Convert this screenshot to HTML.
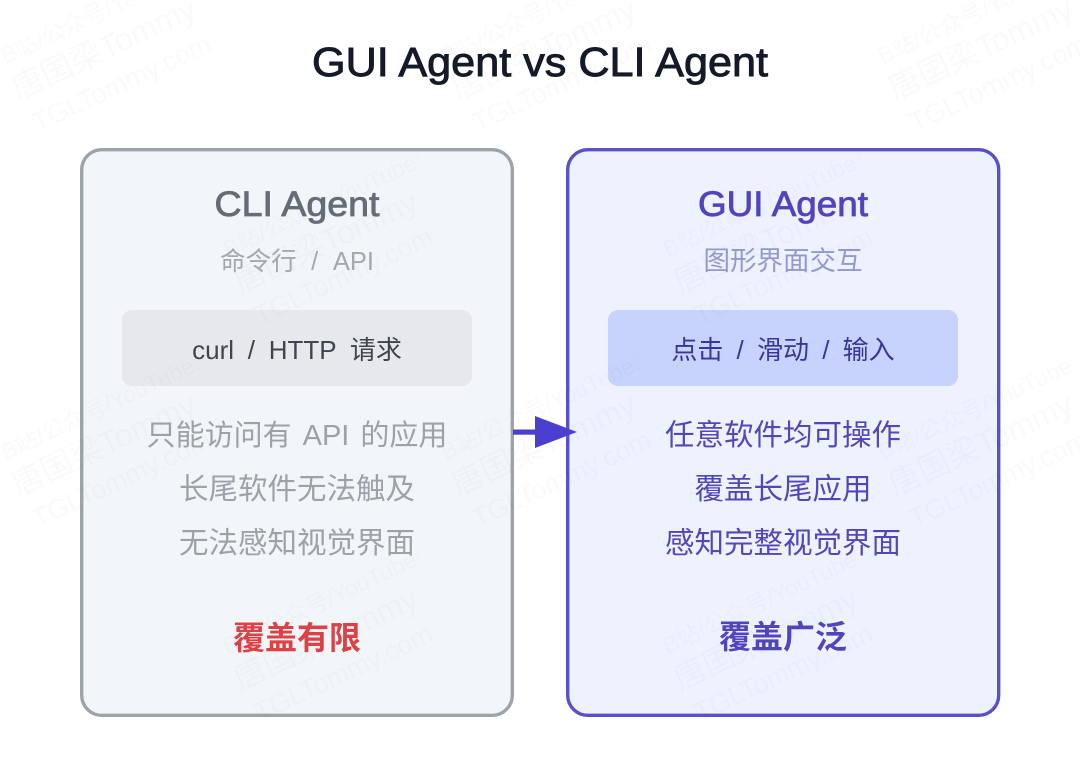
<!DOCTYPE html>
<html><head><meta charset="utf-8">
<style>
html,body{margin:0;padding:0;background:#fff;width:1080px;height:772px;overflow:hidden}
svg{display:block}
text{font-family:"Liberation Sans","Noto Sans CJK SC",sans-serif;text-anchor:middle}
.wm text{text-anchor:start;fill:#000;fill-opacity:.02}
</style></head><body>
<svg width="1080" height="772" viewBox="0 0 1080 772" xmlns="http://www.w3.org/2000/svg">
<rect width="1080" height="772" fill="#fff"/>
<rect x="81.7" y="149.7" width="430.6" height="565.6" rx="20" fill="#f3f6f8" stroke="#9ca3a9" stroke-width="3.4"/>
<rect x="567.7" y="149.7" width="431" height="565.6" rx="20" fill="#eef2fe" stroke="#5a50c8" stroke-width="3.4"/>
<rect x="122" y="310" width="350" height="76" rx="10" fill="#e6e8ec"/>
<rect x="608" y="310" width="350" height="76" rx="10" fill="#c7d2fd"/>

<g class="wm">
<g transform="translate(2,66) rotate(-25)"><text x="4" y="0" font-size="23">B站/公众号/YouTube:</text><text x="0" y="38" font-size="32">唐国梁Tommy</text><text x="4" y="75" font-size="27">TGLTommy.com</text></g>
<g transform="translate(442,66) rotate(-25)"><text x="4" y="0" font-size="23">B站/公众号/YouTube:</text><text x="0" y="38" font-size="32">唐国梁Tommy</text><text x="4" y="75" font-size="27">TGLTommy.com</text></g>
<g transform="translate(879,66) rotate(-25)"><text x="4" y="0" font-size="23">B站/公众号/YouTube:</text><text x="0" y="38" font-size="32">唐国梁Tommy</text><text x="4" y="75" font-size="27">TGLTommy.com</text></g>
<g transform="translate(224,259) rotate(-25)"><text x="4" y="0" font-size="23">B站/公众号/YouTube:</text><text x="0" y="38" font-size="32">唐国梁Tommy</text><text x="4" y="75" font-size="27">TGLTommy.com</text></g>
<g transform="translate(664,259) rotate(-25)"><text x="4" y="0" font-size="23">B站/公众号/YouTube:</text><text x="0" y="38" font-size="32">唐国梁Tommy</text><text x="4" y="75" font-size="27">TGLTommy.com</text></g>
<g transform="translate(2,462) rotate(-25)"><text x="4" y="0" font-size="23">B站/公众号/YouTube:</text><text x="0" y="38" font-size="32">唐国梁Tommy</text><text x="4" y="75" font-size="27">TGLTommy.com</text></g>
<g transform="translate(442,462) rotate(-25)"><text x="4" y="0" font-size="23">B站/公众号/YouTube:</text><text x="0" y="38" font-size="32">唐国梁Tommy</text><text x="4" y="75" font-size="27">TGLTommy.com</text></g>
<g transform="translate(879,462) rotate(-25)"><text x="4" y="0" font-size="23">B站/公众号/YouTube:</text><text x="0" y="38" font-size="32">唐国梁Tommy</text><text x="4" y="75" font-size="27">TGLTommy.com</text></g>
<g transform="translate(224,656) rotate(-25)"><text x="4" y="0" font-size="23">B站/公众号/YouTube:</text><text x="0" y="38" font-size="32">唐国梁Tommy</text><text x="4" y="75" font-size="27">TGLTommy.com</text></g>
<g transform="translate(664,656) rotate(-25)"><text x="4" y="0" font-size="23">B站/公众号/YouTube:</text><text x="0" y="38" font-size="32">唐国梁Tommy</text><text x="4" y="75" font-size="27">TGLTommy.com</text></g>
</g>

<text x="540" y="76" font-size="41" fill="#151a28" stroke="#151a28" stroke-width=".9" textLength="456" lengthAdjust="spacingAndGlyphs">GUI Agent vs CLI Agent</text>

<text x="297" y="216" font-size="35" fill="#656c78" stroke="#656c78" stroke-width=".8" textLength="165" lengthAdjust="spacingAndGlyphs">CLI Agent</text>
<text x="297" y="270" font-size="25.5" fill="#a4a9b1" word-spacing="7.5">命令行 / API</text>
<text x="297" y="359" font-size="26" fill="#3f4550" word-spacing="6.5">curl / HTTP 请求</text>
<text x="297" y="445" font-size="29" fill="#9ca2aa" word-spacing="3">只能访问有 API 的应用</text>
<text x="297" y="499" font-size="29.5" fill="#9ca2aa">长尾软件无法触及</text>
<text x="297" y="553" font-size="29.5" fill="#9ca2aa">无法感知视觉界面</text>
<text x="297" y="649" font-size="32" font-weight="700" fill="#dc4146">覆盖有限</text>

<text x="783" y="216" font-size="35" fill="#4f46bd" stroke="#4f46bd" stroke-width=".8" textLength="170" lengthAdjust="spacingAndGlyphs">GUI Agent</text>
<text x="783" y="270" font-size="26.5" fill="#9299cf">图形界面交互</text>
<text x="783" y="359" font-size="26" fill="#3a3794" word-spacing="6">点击 / 滑动 / 输入</text>
<text x="783" y="445" font-size="29.5" fill="#5048b8">任意软件均可操作</text>
<text x="783" y="499" font-size="29.5" fill="#5048b8">覆盖长尾应用</text>
<text x="783" y="553" font-size="29.5" fill="#5048b8">感知完整视觉界面</text>
<text x="783" y="648" font-size="32" font-weight="700" fill="#4f46bd">覆盖广泛</text>

<rect x="513" y="429.5" width="24" height="5.2" fill="#4a3fd0"/>
<polygon points="535,416 577,432 535,448" fill="#4a3fd0"/>
</svg>
</body></html>
